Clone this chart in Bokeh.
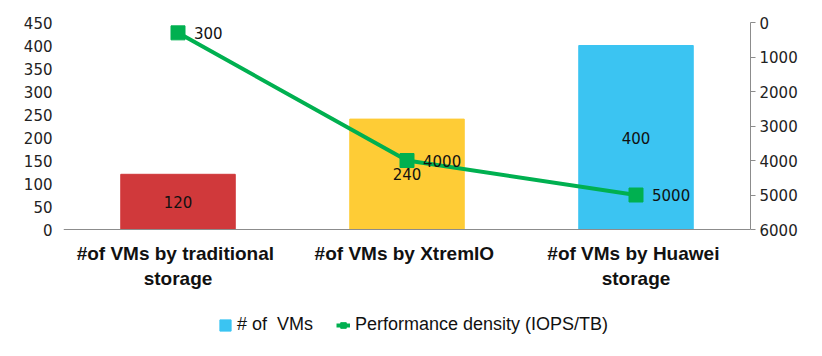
from bokeh.plotting import figure
from bokeh.models import (ColumnDataSource, Range1d, LinearAxis, FixedTicker,
                          Legend, LegendItem, FactorRange)
from bokeh.core.properties import value
from bokeh.embed import file_html
from bokeh.resources import INLINE

categories = ["#of VMs  by traditional\nstorage", "#of VMs  by XtremIO", "#of VMs  by Huawei\nstorage"]
vms = [120, 240, 400]
density = [300, 4000, 5000]
bar_colors = ["#D0393B", "#FECC36", "#3BC4F2"]
left_ticks = [0, 50, 100, 150, 200, 250, 300, 350, 400, 450]
right_ticks = [0, 1000, 2000, 3000, 4000, 5000, 6000]

# layout: value area is 207 px tall, frame extends below it to hold labels and legend
AREA_H = 207
FRAME_H = 323
left_max = 450
right_max = 6000
left_start = -left_max * (FRAME_H - AREA_H) / AREA_H
right_start = right_max * FRAME_H / AREA_H

src = ColumnDataSource(dict(cat=categories, vms=vms, mid=[v / 2 for v in vms],
                            lab=[str(v) for v in vms], color=bar_colors,
                            dens=density, dlab=[str(d) for d in density]))

p = figure(frame_width=687, frame_height=FRAME_H, x_range=FactorRange(*categories, range_padding=0),
           y_range=Range1d(left_start, left_max), output_backend="svg", toolbar_location=None,
           min_border_left=63, min_border_right=72, min_border_top=22, min_border_bottom=0)
p.outline_line_color = None
p.grid.visible = False
p.extra_y_ranges = {"dens": Range1d(start=right_start, end=0)}

bars = p.vbar(x="cat", top="vms", bottom=0, width=0.5, color="color", source=src)
p.text(x="cat", y="mid", text="lab", source=src, text_align="center", text_baseline="middle",
       text_font=value("DejaVu Sans"), text_font_size="15px", text_color="#111111")

line = p.line(x="cat", y="dens", source=src, y_range_name="dens", line_color="#00B050", line_width=4)
mark = p.scatter(x="cat", y="dens", source=src, y_range_name="dens", marker="square",
                 size=14, fill_color="#00B050", line_color="#00B050")
p.text(x="cat", y="dens", text="dlab", source=src, y_range_name="dens", x_offset=16,
       text_align="left", text_baseline="middle", text_font=value("DejaVu Sans"),
       text_font_size="15px", text_color="#111111")

ya = p.yaxis[0]
ya.ticker = FixedTicker(ticks=left_ticks)
ya.axis_line_color = None
ya.major_tick_line_color = None
ya.major_tick_out = 0
ya.major_tick_in = 0
ya.minor_tick_line_color = None
ya.minor_tick_out = 0
ya.major_label_text_font = "DejaVu Sans"
ya.major_label_text_font_size = "15px"
ya.major_label_text_color = "#222222"
ya.major_label_standoff = 11
ya.axis_label = "\u2007"
ya.axis_label_text_font_size = "12px"
ya.axis_label_standoff = 0

ra = LinearAxis(y_range_name="dens", ticker=FixedTicker(ticks=right_ticks), bounds=(0, right_max))
ra.axis_line_color = "#8c8c8c"
ra.major_tick_line_color = "#8c8c8c"
ra.major_tick_out = 5
ra.major_tick_in = 0
ra.minor_tick_line_color = None
ra.minor_tick_out = 0
ra.major_label_text_font = "DejaVu Sans"
ra.major_label_text_font_size = "15px"
ra.major_label_text_color = "#222222"
ra.major_label_standoff = 4
p.add_layout(ra, "right")

xa = p.xaxis[0]
xa.fixed_location = 0
xa.axis_line_color = "#8c8c8c"
xa.major_tick_line_color = None
xa.major_tick_out = 0
xa.major_tick_in = 0
xa.minor_tick_line_color = None
xa.minor_tick_out = 0
xa.major_label_text_font = "Liberation Sans"
xa.major_label_text_font_style = "bold"
xa.major_label_text_font_size = "19px"
xa.major_label_text_color = "#111111"
xa.major_label_standoff = 13

legend = Legend(items=[LegendItem(label="# of  VMs", renderers=[bars], index=2),
                       LegendItem(label="Performance density (IOPS/TB)", renderers=[line, mark])],
                orientation="horizontal", location=(155, 10), glyph_width=14, glyph_height=14,
                label_text_font="Liberation Sans", label_text_font_size="18px",
                label_text_color="#111111", border_line_color=None, background_fill_alpha=0,
                spacing=23, label_standoff=5, margin=0, padding=0)
p.add_layout(legend, "center")

open("out.html", "w").write(file_html(p, INLINE))
